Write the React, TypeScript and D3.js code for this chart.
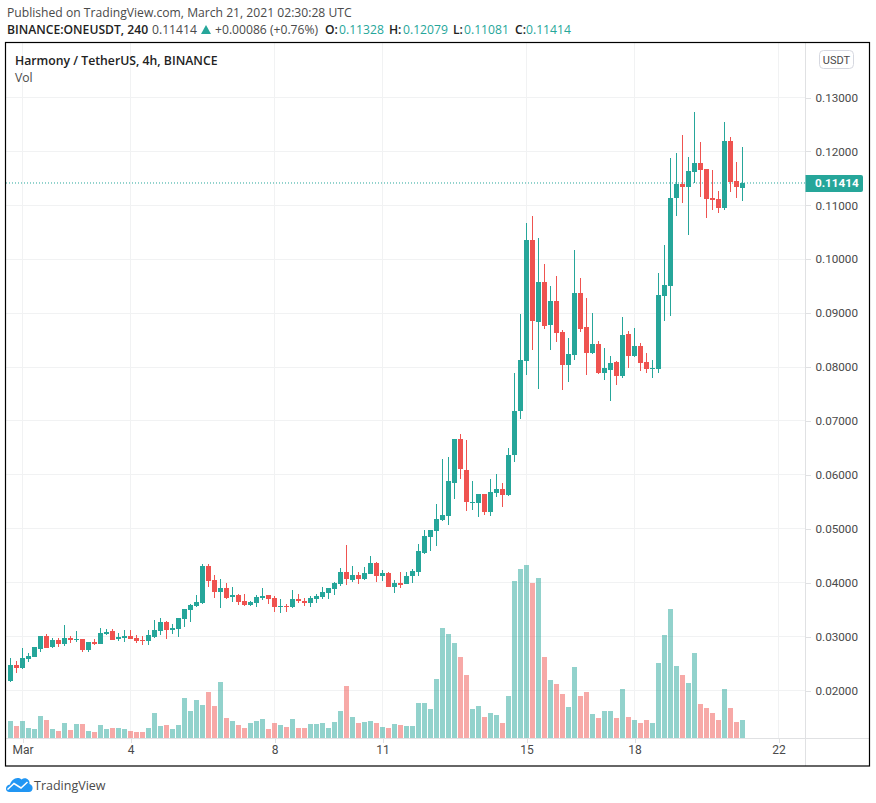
import React, { useEffect, useRef } from 'react';
import * as d3 from 'd3';

const opens = [
  0.02174, 0.02464, 0.02415, 0.02581, 0.02625, 0.02773, 0.03007, 0.02803, 0.02933, 0.02859, 0.0297, 0.02933,
  0.02952, 0.02748, 0.02896, 0.02859, 0.03044, 0.031, 0.02952, 0.0297, 0.03007, 0.0297, 0.02933, 0.02914,
  0.02989, 0.031, 0.03266, 0.03118, 0.03137, 0.03322, 0.03488, 0.03562, 0.03618, 0.04303, 0.04044, 0.03821,
  0.03896, 0.03729, 0.03766, 0.03655, 0.03581, 0.03618, 0.0371, 0.03766, 0.0371, 0.03556, 0.03562, 0.03545,
  0.03693, 0.03668, 0.03619, 0.03693, 0.0373, 0.03804, 0.03878, 0.0397, 0.04192, 0.04044, 0.04137, 0.04063,
  0.04155, 0.04359, 0.04118, 0.04174, 0.03915, 0.03989, 0.0397, 0.04118, 0.04192, 0.04544, 0.0484, 0.04951,
  0.05155, 0.05229, 0.0584, 0.06673, 0.06099, 0.0547, 0.0547, 0.05636, 0.05303, 0.05655, 0.05729, 0.05618,
  0.06362, 0.07178, 0.08119, 0.10359, 0.08841, 0.09581, 0.08785, 0.09229, 0.08656, 0.08045, 0.0823, 0.09378,
  0.08748, 0.08267, 0.08433, 0.07897, 0.07952, 0.081, 0.07841, 0.08619, 0.08211, 0.08396, 0.081, 0.07971,
  0.07971, 0.09322, 0.09496, 0.1113, 0.1139, 0.11334, 0.11612, 0.11778, 0.11667, 0.1113, 0.11112, 0.10945,
  0.12186, 0.11445, 0.11328,
];
const highs = [
  0.02612, 0.02538, 0.02785, 0.02692, 0.02803, 0.03007, 0.03056, 0.02982, 0.02982, 0.03211, 0.03007, 0.031,
  0.02964, 0.02896, 0.02952, 0.03155, 0.03137, 0.03137, 0.03063, 0.03118, 0.03118, 0.03026, 0.03007, 0.03118,
  0.03303, 0.0334, 0.03285, 0.03229, 0.0334, 0.03507, 0.03599, 0.03766, 0.04352, 0.0434, 0.04136, 0.04062,
  0.03988, 0.03914, 0.03784, 0.03784, 0.03655, 0.03766, 0.03896, 0.03766, 0.03747, 0.03692, 0.03599, 0.03859,
  0.03785, 0.03711, 0.03748, 0.03785, 0.03915, 0.03896, 0.04007, 0.04267, 0.04692, 0.04304, 0.04192, 0.04285,
  0.04489, 0.04378, 0.0423, 0.04192, 0.04044, 0.04192, 0.04192, 0.04248, 0.04711, 0.0497, 0.0497, 0.05451,
  0.06303, 0.0634, 0.06673, 0.06765, 0.06654, 0.05895, 0.05636, 0.05636, 0.05932, 0.06025, 0.05858, 0.06506,
  0.07883, 0.08976, 0.10673, 0.10803, 0.10396, 0.09914, 0.09507, 0.09692, 0.08693, 0.08545, 0.10174, 0.09655,
  0.09285, 0.09007, 0.08489, 0.0836, 0.08211, 0.08119, 0.08933, 0.08674, 0.0873, 0.08452, 0.08267, 0.08137,
  0.09748, 0.10266, 0.11869, 0.11963, 0.12297, 0.11889, 0.12722, 0.12167, 0.11667, 0.11649, 0.1126, 0.12537,
  0.1226, 0.11797, 0.12079,
];
const lows = [
  0.02156, 0.02322, 0.02396, 0.02526, 0.02625, 0.02717, 0.02785, 0.02785, 0.0281, 0.02822, 0.02877, 0.02896,
  0.02711, 0.02711, 0.0284, 0.02859, 0.03026, 0.02933, 0.02914, 0.02896, 0.02952, 0.02877, 0.0284, 0.0284,
  0.0297, 0.03026, 0.02951, 0.03044, 0.02989, 0.03174, 0.03266, 0.03544, 0.03599, 0.03914, 0.0371, 0.03525,
  0.03692, 0.03636, 0.03581, 0.03562, 0.03562, 0.03544, 0.03673, 0.03599, 0.03451, 0.03433, 0.03451, 0.03526,
  0.03619, 0.03563, 0.03545, 0.03619, 0.03693, 0.03693, 0.03767, 0.03933, 0.03952, 0.04007, 0.0397, 0.04044,
  0.04155, 0.04007, 0.04026, 0.03915, 0.03804, 0.03896, 0.0397, 0.03989, 0.04118, 0.04526, 0.04581, 0.04674,
  0.05136, 0.05062, 0.05544, 0.05914, 0.05322, 0.0534, 0.05211, 0.05248, 0.05229, 0.05581, 0.05396, 0.05599,
  0.06233, 0.0703, 0.0786, 0.08323, 0.07601, 0.08711, 0.08323, 0.08471, 0.07582, 0.0773, 0.08137, 0.08656,
  0.0786, 0.08248, 0.07878, 0.07767, 0.07378, 0.07675, 0.07804, 0.07989, 0.08193, 0.07934, 0.07897, 0.07804,
  0.07897, 0.08859, 0.08939, 0.10797, 0.11038, 0.10446, 0.11408, 0.11149, 0.1076, 0.10908, 0.10853, 0.10908,
  0.11242, 0.1113, 0.11081,
];
const closes = [
  0.0247, 0.02415, 0.026, 0.02637, 0.02803, 0.03007, 0.02791, 0.02933, 0.02859, 0.0297, 0.02933, 0.02952,
  0.02748, 0.02896, 0.02859, 0.03063, 0.03081, 0.02933, 0.02989, 0.03007, 0.02952, 0.02914, 0.02927, 0.03026,
  0.03118, 0.03266, 0.03118, 0.03155, 0.0334, 0.03507, 0.03581, 0.03636, 0.04303, 0.04025, 0.03821, 0.03896,
  0.0371, 0.03766, 0.03636, 0.03581, 0.03636, 0.03729, 0.03747, 0.03692, 0.03544, 0.03562, 0.03544, 0.03693,
  0.03656, 0.03619, 0.03711, 0.03748, 0.03822, 0.03896, 0.03989, 0.04192, 0.04063, 0.04137, 0.04063, 0.04174,
  0.04359, 0.04118, 0.04174, 0.03915, 0.03989, 0.03952, 0.04118, 0.04211, 0.04581, 0.04859, 0.0497, 0.05173,
  0.05248, 0.05877, 0.06673, 0.06118, 0.05488, 0.05488, 0.05636, 0.05303, 0.05673, 0.05729, 0.05618, 0.06377,
  0.07178, 0.08124, 0.10359, 0.08859, 0.09581, 0.08767, 0.09229, 0.08637, 0.08045, 0.08248, 0.09378, 0.08711,
  0.08267, 0.08433, 0.07897, 0.07989, 0.08082, 0.07841, 0.086, 0.08211, 0.08396, 0.08082, 0.07971, 0.07989,
  0.09341, 0.09526, 0.11127, 0.1139, 0.11334, 0.1163, 0.11778, 0.11649, 0.11112, 0.11093, 0.10945, 0.12186,
  0.11427, 0.11334, 0.11414,
];
const volumes = [
  5.2, 3.7, 5.2, 3.1, 2.8, 6.7, 5.5, 2.8, 2.2, 4.6, 2.5, 4.3, 4.3, 2.2, 1.9, 4.0, 2.8, 3.1, 3.1, 2.8, 2.2, 1.9, 1.9, 3.1,
  7.6, 3.7, 4.0, 2.8, 4.0, 12.1, 8.2, 11.5, 10.0, 13.9, 9.7, 16.9, 6.1, 5.2, 4.0, 3.1, 4.6, 5.2, 5.8, 2.8, 4.6, 3.9, 3.3, 5.7,
  3.0, 3.0, 4.2, 4.2, 4.5, 3.0, 4.8, 8.1, 15.6, 6.3, 4.5, 4.8, 5.1, 4.5, 3.3, 3.0, 4.2, 3.9, 3.6, 3.6, 10.5, 10.5, 8.7, 17.7,
  33.0, 31.2, 28.5, 24.3, 18.9, 8.7, 9.6, 6.3, 7.5, 6.9, 4.5, 12.6, 47.1, 50.7, 51.9, 46.5, 48.0, 24.3, 17.4, 16.2, 13.2, 9.3, 21.3, 12.6,
  13.8, 7.2, 6.0, 8.1, 8.1, 6.0, 14.7, 6.3, 5.4, 4.5, 5.4, 4.5, 22.5, 30.9, 38.7, 21.6, 18.9, 16.5, 25.5, 10.2, 9.0, 7.5, 5.4, 14.7,
  9.0, 4.8, 5.4,
];
const priceTicks = [0.02, 0.03, 0.04, 0.05, 0.06, 0.07, 0.08, 0.09, 0.1, 0.11, 0.12, 0.13];
const dateTicks = ['2021-03-01', '2021-03-04', '2021-03-08', '2021-03-11', '2021-03-15', '2021-03-18', '2021-03-22'];
const lastPrice = 0.11414;

const GREEN = '#26a69a';
const RED = '#ef5350';
const TEXT = '#4a4a4a';
const UI_FONT = '"Open Sans", sans-serif';

const App: React.FC = () => {
  const svgRef = useRef<SVGSVGElement>(null);

  useEffect(() => {
    if (!svgRef.current) return;
    const svg = d3.select(svgRef.current);
    svg.selectAll('*').remove();

    const frame = { left: 6, top: 43, right: 869.5, bottom: 766 };
    const axisX = 805.5;
    const axisY = 738.5;

    const firstBar = new Date(Date.UTC(2021, 1, 28, 16));
    const lastBar = new Date(Date.UTC(2021, 2, 21, 0));
    const barTime = (i: number) => d3.utcHour.offset(firstBar, i * 4);

    const x = d3.scaleUtc().domain([firstBar, lastBar]).range([10.5, 742.5]);
    const y = d3.scaleLinear().domain([0.02, 0.13]).range([690.5, 97.5]);
    const yVol = d3.scaleLinear().domain([0, 51.9]).range([738, 565]);

    const tickDates = dateTicks.map(d => new Date(d + 'T00:00:00Z'));
    const bars = d3.range(opens.length);
    const isUp = (i: number) => closes[i] >= opens[i];

    svg.append('rect').attr('width', 876).attr('height', 803).attr('fill', '#ffffff');

    // Grid
    const grid = svg.append('g').attr('stroke', '#f1f2f3').attr('shape-rendering', 'crispEdges');
    grid.selectAll('line.h').data(priceTicks).enter().append('line')
      .attr('class', 'h')
      .attr('x1', frame.left).attr('x2', axisX)
      .attr('y1', d => y(d)).attr('y2', d => y(d));
    grid.selectAll('line.v').data(tickDates).enter().append('line')
      .attr('class', 'v')
      .attr('x1', d => x(d)).attr('x2', d => x(d))
      .attr('y1', frame.top).attr('y2', axisY);

    // Volume
    svg.append('g').attr('shape-rendering', 'crispEdges')
      .selectAll('rect').data(bars).enter().append('rect')
      .attr('x', i => x(barTime(i)) - 2.5)
      .attr('width', 5)
      .attr('y', i => yVol(volumes[i]))
      .attr('height', i => yVol(0) - yVol(volumes[i]))
      .attr('fill', i => (isUp(i) ? GREEN : RED))
      .attr('fill-opacity', 0.5);

    // Last price line
    svg.append('line')
      .attr('x1', frame.left).attr('x2', axisX)
      .attr('y1', y(lastPrice)).attr('y2', y(lastPrice))
      .attr('stroke', GREEN)
      .attr('stroke-dasharray', '1,2');

    // Candles
    const candles = svg.append('g').attr('shape-rendering', 'crispEdges');
    candles.selectAll('rect.wick').data(bars).enter().append('rect')
      .attr('class', 'wick')
      .attr('x', i => x(barTime(i)) - 0.5)
      .attr('width', 1)
      .attr('y', i => y(highs[i]))
      .attr('height', i => y(lows[i]) - y(highs[i]))
      .attr('fill', i => (isUp(i) ? GREEN : RED));
    candles.selectAll('rect.body').data(bars).enter().append('rect')
      .attr('class', 'body')
      .attr('x', i => x(barTime(i)) - 2.5)
      .attr('width', 5)
      .attr('y', i => y(Math.max(opens[i], closes[i])))
      .attr('height', i => Math.max(1, Math.abs(y(opens[i]) - y(closes[i]))))
      .attr('fill', i => (isUp(i) ? GREEN : RED));

    // Price axis
    const priceAxis = svg.append('g')
      .attr('transform', `translate(${axisX}, 0)`)
      .call(d3.axisRight(y).tickValues(priceTicks).tickFormat(d => d3.format('.5f')(d as number)).tickSize(5).tickPadding(5));
    priceAxis.select('.domain').remove();
    priceAxis.selectAll('line').attr('stroke', '#e0e1e3').attr('shape-rendering', 'crispEdges');
    priceAxis.selectAll('text')
      .attr('fill', TEXT)
      .attr('font-family', 'Roboto, sans-serif')
      .attr('font-size', 11.7);

    // Time axis
    const timeAxis = svg.append('g')
      .attr('transform', `translate(0, ${axisY})`)
      .call(d3.axisBottom(x).tickValues(tickDates)
        .tickFormat(d => ((d as Date).getUTCDate() === 1 ? 'Mar' : String((d as Date).getUTCDate())))
        .tickSize(4).tickPadding(3));
    timeAxis.select('.domain').remove();
    timeAxis.selectAll('line').attr('stroke', '#e0e1e3').attr('shape-rendering', 'crispEdges');
    timeAxis.selectAll('text')
      .attr('fill', TEXT)
      .attr('font-family', 'Roboto, sans-serif')
      .attr('font-size', 12);

    // Axis borders
    const borders = svg.append('g').attr('stroke', '#e0e1e3').attr('shape-rendering', 'crispEdges');
    borders.append('line').attr('x1', frame.left).attr('x2', frame.right).attr('y1', axisY).attr('y2', axisY);
    borders.append('line').attr('x1', axisX).attr('x2', axisX).attr('y1', frame.top).attr('y2', frame.bottom);

    // Last price tag
    const tag = svg.append('g');
    tag.append('path')
      .attr('d', `M${axisX},175 H861 a2,2 0 0 1 2,2 V190 a2,2 0 0 1 -2,2 H${axisX} Z`)
      .attr('fill', GREEN);
    tag.append('text')
      .attr('x', 815).attr('y', y(lastPrice) + 4.5)
      .attr('fill', '#ffffff')
      .attr('font-family', 'Roboto, sans-serif')
      .attr('font-weight', 700)
      .attr('font-size', 11.7)
      .text(d3.format('.5f')(lastPrice));

    // Currency button
    svg.append('rect')
      .attr('x', 819.5).attr('y', 50.5).attr('width', 34).attr('height', 18).attr('rx', 4)
      .attr('fill', '#ffffff').attr('stroke', '#d6d8e0');
    svg.append('text')
      .attr('x', 836.5).attr('y', 63.5)
      .attr('text-anchor', 'middle')
      .attr('fill', TEXT)
      .attr('font-family', 'Roboto, sans-serif')
      .attr('font-size', 11)
      .text('USDT');

    // Frame
    svg.append('rect')
      .attr('x', frame.left - 0.5).attr('y', frame.top - 0.5)
      .attr('width', frame.right - frame.left + 0.5).attr('height', frame.bottom - frame.top + 0.5)
      .attr('fill', 'none')
      .attr('stroke', '#000000')
      .attr('stroke-width', 1.2);

    // Header text
    const label = (px: number, py: number, text: string, color: string, bold = false, size = 12.15) =>
      svg.append('text')
        .attr('x', px).attr('y', py)
        .attr('fill', color)
        .attr('font-family', UI_FONT)
        .attr('font-weight', bold ? 600 : 400)
        .attr('font-size', size)
        .text(text);

    label(7, 17, 'Published on TradingView.com, March 21, 2021 02:30:28 UTC', TEXT);
    label(7, 34, 'BINANCE:ONEUSDT, 240', '#222222', true);
    label(152, 34, '0.11414', TEXT);
    svg.append('path').attr('d', 'M201,34 L206,25 L211,34 Z').attr('fill', GREEN);
    label(215, 34, '+0.00086 (+0.76%)', TEXT);
    label(325, 34, 'O:', '#222222', true);
    label(339, 34, '0.11328', GREEN);
    label(389, 34, 'H:', '#222222', true);
    label(403, 34, '0.12079', GREEN);
    label(453, 34, 'L:', '#222222', true);
    label(464, 34, '0.11081', GREEN);
    label(515, 34, 'C:', '#222222', true);
    label(526, 34, '0.11414', GREEN);

    label(15, 65, 'Harmony / TetherUS, 4h, BINANCE', '#222222', true, 12.25);
    label(15, 82, 'Vol', TEXT);

    // Logo
    svg.append('path')
      .attr('d', 'M9.5,792 C5,792 4.5,785.5 10,784.5 C11,780 17,775.5 21.5,779.5 C25,776.5 30.5,779.5 29.5,784 C34,785 33.5,792 29,792 Z')
      .attr('fill', '#2196f3');
    svg.append('path')
      .attr('d', 'M7.5,789.5 L14,783.5 L21,788 L27.5,782')
      .attr('fill', 'none')
      .attr('stroke', '#ffffff')
      .attr('stroke-width', 1.5);
    label(34, 790, 'TradingView', TEXT, false, 12.5);
  }, []);

  return <svg ref={svgRef} width={876} height={803} style={{ position: 'absolute', left: 0, top: 0 }} />;
};

export default App;
